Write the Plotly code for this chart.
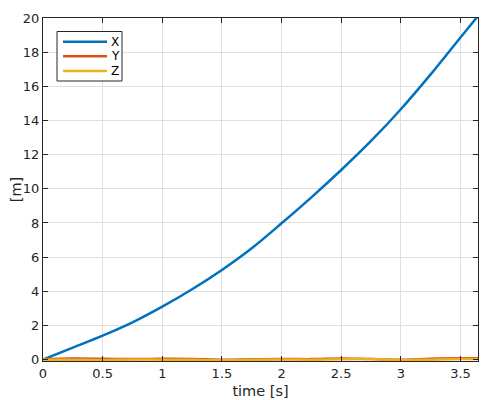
import plotly.graph_objects as go

# time samples [s]
time_s = [0, 0.25, 0.5, 0.75, 1.0, 1.25, 1.5, 1.75, 2.0, 2.25, 2.5, 2.75, 3.0, 3.25, 3.5, 3.647]

# position components [m]
pos_x = [0, 0.70, 1.40, 2.18, 3.10, 4.12, 5.25, 6.52, 7.98, 9.50, 11.10, 12.80, 14.66, 16.70, 18.86, 20.12]
pos_y = [0, 0.06, 0.05, 0.03, 0.05, 0.04, 0.0, 0.02, 0.04, 0.03, 0.07, 0.03, 0.0, 0.05, 0.08, 0.08]
pos_z = [0, 0.0, -0.02, 0.01, 0.0, -0.01, -0.03, 0.0, 0.01, 0.0, 0.02, 0.03, -0.02, 0.0, 0.03, 0.04]

names = ["X", "Y", "Z"]
colors = ["#0072BD", "#D95319", "#EDB120"]

FONT = "DejaVu Sans"
INK = "#262626"

fig = go.Figure()
for name, vals, col in zip(names, [pos_x, pos_y, pos_z], colors):
    fig.add_trace(go.Scatter(x=time_s, y=vals, mode="lines", name=name,
                             line=dict(color=col, width=2.5, shape="spline")))

axis_style = dict(showline=True, linecolor=INK, linewidth=1, mirror="ticks",
                  ticks="inside", ticklen=5, tickcolor=INK, automargin=False,
                  showgrid=True, gridcolor="#dfdfdf", gridwidth=1, zeroline=False,
                  tickfont=dict(family=FONT, size=13, color=INK))

fig.update_xaxes(range=[0, 3.647], dtick=0.5, tick0=0,
                 title=dict(text="time [s]", font=dict(family=FONT, size=14.5, color=INK), standoff=6),
                 **axis_style)
fig.update_yaxes(range=[-0.08, 20], dtick=2, tick0=0,
                 title=dict(text="[m]", font=dict(family=FONT, size=14.5, color=INK), standoff=6),
                 **axis_style)

# the page body adds an 8px margin, so the figure is drawn 8px smaller and shifted
PAD = 8
L, T, W, H = 43 - PAD, 18 - PAD, 435, 343
FIG_W, FIG_H = 500 - PAD, 400 - PAD

def px(x):
    return (x - PAD - L) / W
def py(y):
    return (T + H - (y - PAD)) / H

# legend box drawn MATLAB style (compact rows), in page pixels
shapes = [dict(type="rect", xref="paper", yref="paper", x0=px(57), x1=px(122), y0=py(81), y1=py(31.5),
               line=dict(color=INK, width=1), fillcolor="white", layer="above")]
annotations = []
for i, (name, col) in enumerate(zip(names, colors)):
    yy = 41.7 + i * 14.6
    shapes.append(dict(type="line", xref="paper", yref="paper", x0=px(63), x1=px(107), y0=py(yy), y1=py(yy),
                       line=dict(color=col, width=2.5), layer="above"))
    annotations.append(dict(text=name, xref="paper", yref="paper", x=px(109), y=py(yy),
                            xanchor="left", yanchor="middle", showarrow=False,
                            font=dict(family=FONT, size=12, color="#000000")))

fig.update_layout(
    width=FIG_W, height=FIG_H,
    margin=dict(l=L, r=FIG_W - L - W, t=T, b=FIG_H - T - H),
    paper_bgcolor="white", plot_bgcolor="white",
    showlegend=False,
    shapes=shapes, annotations=annotations,
)

fig.write_html("out.html")
